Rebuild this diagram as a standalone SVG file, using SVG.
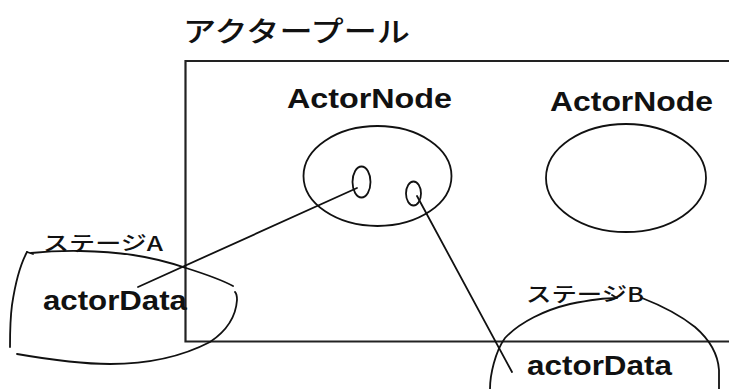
<svg xmlns="http://www.w3.org/2000/svg" width="729" height="389" viewBox="0 0 729 389">
<style>
.ln{fill:none;stroke:#111;stroke-width:1.8;stroke-linecap:round;stroke-linejoin:round}
.box{fill:none;stroke:#222;stroke-width:2.2}
.jp{font-family:"Noto Sans CJK JP","Noto Sans",sans-serif;font-weight:500;fill:#111}
.en{font-family:"Liberation Sans",Arial,sans-serif;font-weight:bold;fill:#111}
</style>
<rect width="729" height="389" fill="#fff"/>
<g id="pool">
<path class="box" d="M740,61 H185.5 V341.5 H740"/>
<text class="jp" x="183" y="42" font-size="28" textLength="227" lengthAdjust="spacingAndGlyphs">アクタープール</text>
</g>
<g id="node1">
<text class="en" x="287" y="108" font-size="28" textLength="165" lengthAdjust="spacingAndGlyphs">ActorNode</text>
<ellipse class="ln" cx="377.5" cy="176" rx="74" ry="50"/>
<ellipse class="ln" cx="361.5" cy="182" rx="9" ry="15.5"/>
<ellipse class="ln" cx="413.5" cy="193.5" rx="7.5" ry="12"/>
</g>
<g id="node2">
<text class="en" x="550" y="111" font-size="28" textLength="163" lengthAdjust="spacingAndGlyphs">ActorNode</text>
<ellipse class="ln" cx="626" cy="178" rx="80" ry="54"/>
</g>
<g id="stageA">
<text class="jp" x="43" y="251" font-size="20" textLength="120" lengthAdjust="spacingAndGlyphs">ステージA</text>
<path class="ln" d="M27,252 L33,254"/>
<path class="ln" d="M31,253 C60,250 100,250 133,255 C160,259 180,266 186,268 C205,274 222,280 233,286"/>
<path class="ln" d="M27,252 C20,265 15,285 12,305 C10,320 10,335 10,347"/>
<path class="ln" d="M17,354 C40,358 80,364 110,364 C150,364 185,355 210,342 C228,330 236,315 237,300 C237,296 236,293 235,292"/>
<text class="en" x="43" y="310" font-size="28" textLength="144" lengthAdjust="spacingAndGlyphs">actorData</text>
</g>
<g id="stageB">
<text class="jp" x="526" y="302" font-size="20" textLength="118" lengthAdjust="spacingAndGlyphs">ステージB</text>
<path class="ln" d="M490,389 C490,375 495,352 505,338 C520,322 545,310 570,304 C590,300 605,298 617,298 L612,295"/>
<path class="ln" d="M642,298 C660,305 680,315 695,327 C710,340 718,355 719,370 L719,389"/>
<text class="en" x="527" y="375" font-size="28" textLength="145" lengthAdjust="spacingAndGlyphs">actorData</text>
</g>
<g id="connectors">
<line class="ln" x1="357" y1="188" x2="138" y2="287"/>
<line class="ln" x1="417" y1="196" x2="512" y2="372"/>
</g>
</svg>
